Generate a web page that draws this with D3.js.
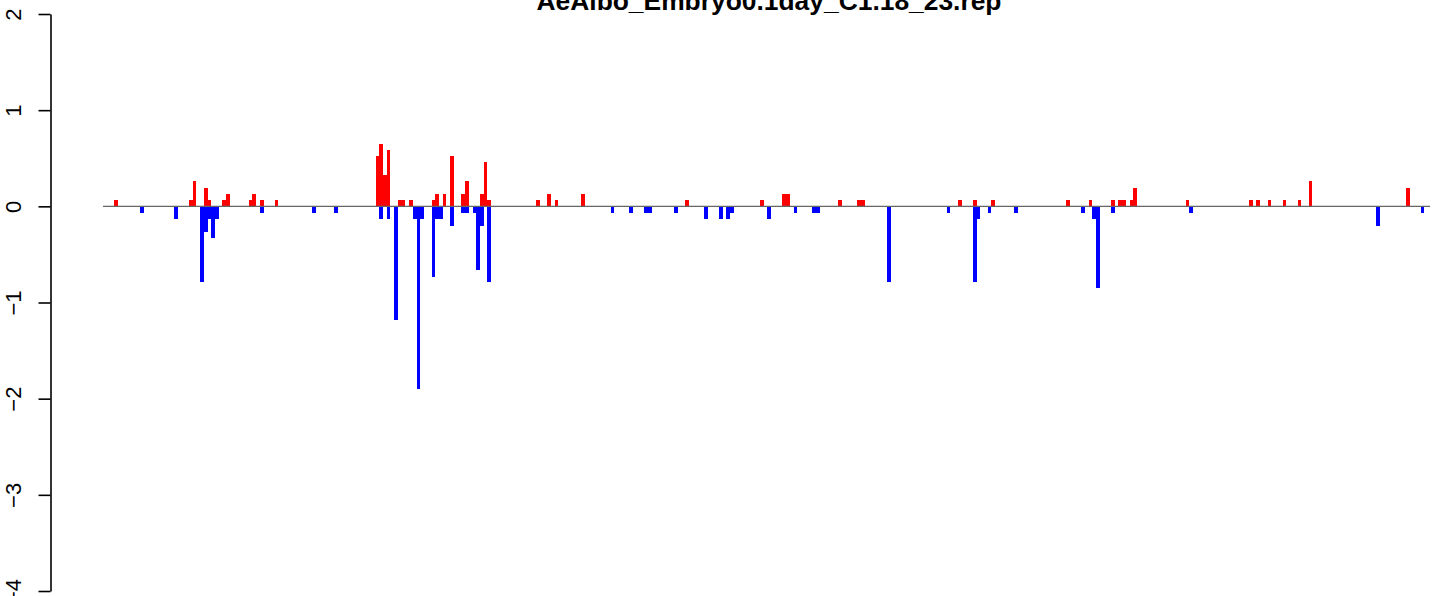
<!DOCTYPE html>
<html>
<head>
<meta charset="utf-8">
<script src="https://cdn.jsdelivr.net/npm/d3@7"></script>
<style>
  html, body { margin: 0; padding: 0; background: #fff; }
  svg { display: block; }
  text { font-family: "Liberation Sans", Arial, Helvetica, sans-serif; }
</style>
</head>
<body>
<svg id="chart" width="1433" height="596"></svg>
<script>
// ---- data ----
const title = "AeAlbo_Embryo0.1day_C1.18_23.rep";
const nBins = 356;
const yTicks = [-4, -3, -2, -1, 0, 1, 2];

const posIndex = [3,23,24,27,28,32,33,39,40,42,46,73,74,75,76,79,80,82,88,89,91,93,96,97,101,102,103,116,119,121,128,156,176,182,183,197,202,203,229,233,238,258,264,270,272,273,275,276,290,307,309,312,316,320,323,349];
const posValue = [0.066,0.066,0.26,0.19,0.066,0.066,0.13,0.066,0.13,0.066,0.066,0.52,0.65,0.33,0.59,0.066,0.066,0.066,0.066,0.13,0.13,0.52,0.13,0.26,0.13,0.46,0.066,0.066,0.13,0.066,0.13,0.066,0.066,0.13,0.13,0.066,0.066,0.066,0.066,0.066,0.066,0.066,0.066,0.066,0.066,0.066,0.066,0.19,0.066,0.066,0.066,0.066,0.066,0.066,0.26,0.19];

const negIndex = [10,19,26,27,28,29,30,42,56,62,74,76,78,83,84,85,88,89,90,93,96,97,99,100,101,103,136,141,145,146,153,161,165,167,168,178,185,190,191,210,226,233,234,237,244,262,265,266,270,291,341,353];
const negValue = [-0.066,-0.13,-0.79,-0.27,-0.13,-0.33,-0.13,-0.066,-0.066,-0.066,-0.13,-0.13,-1.18,-0.13,-1.9,-0.13,-0.73,-0.13,-0.13,-0.2,-0.066,-0.066,-0.066,-0.66,-0.2,-0.79,-0.066,-0.066,-0.066,-0.066,-0.066,-0.13,-0.13,-0.13,-0.066,-0.13,-0.066,-0.066,-0.066,-0.79,-0.066,-0.79,-0.13,-0.066,-0.066,-0.066,-0.13,-0.85,-0.066,-0.066,-0.2,-0.066];

// ---- chart ----
const svg = d3.select("#chart");
const x = d3.scaleLinear().domain([0, nBins]).range([103, 103 + nBins * 3.733]);
const y = d3.scaleLinear().domain([-4, 2]).range([591, 14]);

const posData = posIndex.map((i, k) => ({ i, v: posValue[k] }));
const negData = negIndex.map((i, k) => ({ i, v: negValue[k] }));

svg.append("g").selectAll("rect").data(posData).join("rect")
  .attr("x", d => x(d.i))
  .attr("width", d => x(d.i + 1) - x(d.i))
  .attr("y", d => y(d.v))
  .attr("height", d => y(0) - y(d.v))
  .attr("fill", "#ff0000")
  .attr("shape-rendering", "crispEdges");

svg.append("g").selectAll("rect").data(negData).join("rect")
  .attr("x", d => x(d.i))
  .attr("width", d => x(d.i + 1) - x(d.i))
  .attr("y", y(0))
  .attr("height", d => y(d.v) - y(0))
  .attr("fill", "#0000ff")
  .attr("shape-rendering", "crispEdges");

// baseline
svg.append("line")
  .attr("x1", x(0)).attr("x2", x(355.5))
  .attr("y1", y(0)).attr("y2", y(0))
  .attr("stroke", "#666").attr("stroke-width", 1.3);

// y axis
const axisX = 50.5;
const gAxis = svg.append("g")
  .attr("transform", `translate(${axisX},0)`)
  .call(d3.axisLeft(y).tickValues(yTicks).tickSize(12).tickSizeOuter(0).tickFormat(d3.format("d")));
gAxis.select(".domain").attr("stroke", "#000").attr("stroke-width", 1.6);
gAxis.selectAll(".tick line").attr("stroke", "#000").attr("stroke-width", 1.6);
gAxis.selectAll(".tick text")
  .attr("x", 0).attr("y", 0).attr("dy", 0)
  .attr("text-anchor", "middle")
  .attr("transform", `translate(${20.5 - axisX},0) rotate(-90)`)
  .attr("font-size", 22)
  .attr("font-family", "Liberation Sans, Arial, sans-serif")
  .attr("fill", "#000")
  .text(d => d < 0 ? "\u2212" + Math.abs(d) : String(d));

// title
svg.append("text")
  .attr("x", 769).attr("y", 9.5)
  .attr("text-anchor", "middle")
  .attr("font-size", 26.4)
  .attr("font-weight", "bold")
  .attr("fill", "#000")
  .text(title);
</script>
</body>
</html>
